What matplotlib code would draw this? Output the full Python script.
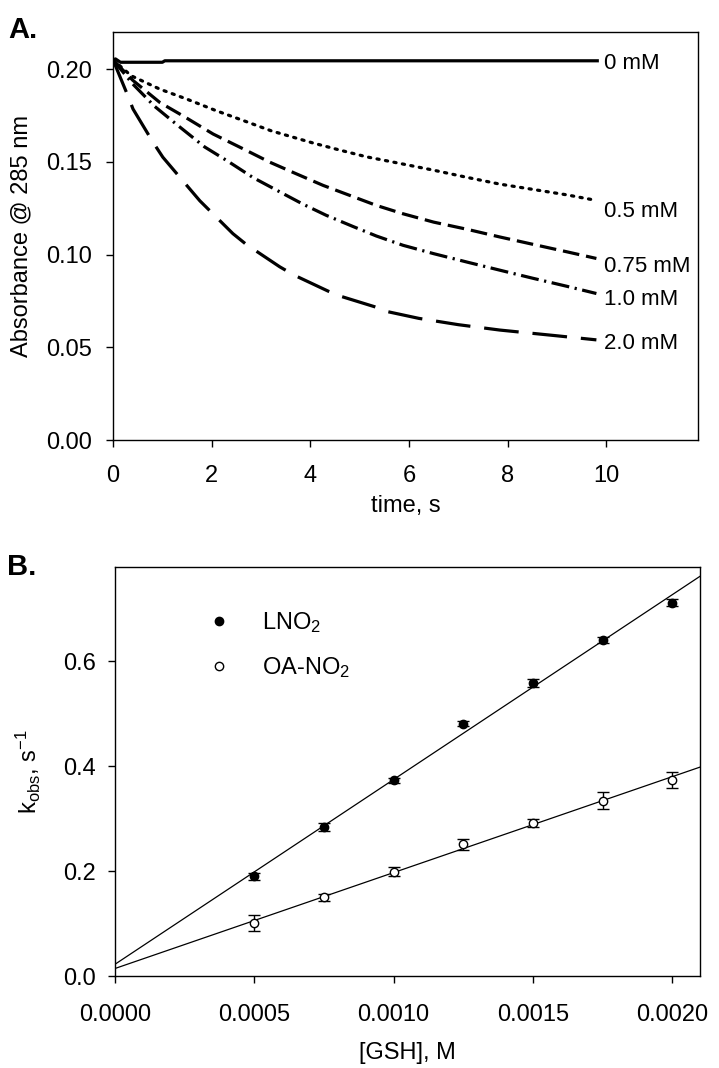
import matplotlib
matplotlib.use("Agg")
import matplotlib.pyplot as plt
import numpy as np
from matplotlib.lines import Line2D

plt.rcParams['font.family'] = ['Liberation Sans', 'DejaVu Sans']
plt.rcParams['mathtext.fontset'] = 'custom'
plt.rcParams['mathtext.rm'] = 'Liberation Sans'
plt.rcParams['mathtext.it'] = 'Liberation Sans'
plt.rcParams['lines.scale_dashes'] = False

# ---------------- Panel A data ----------------
t_0mM = [0, 0.05, 0.15, 1.0, 1.05, 9.85]
abs_0mM = [0.2050, 0.2055, 0.2037, 0.2037, 0.2045, 0.2045]

t_05mM = [0, 0.37, 0.95, 1.49, 2.09, 2.7, 3.21, 4.05, 4.59, 5.14, 5.75, 6.5, 7.2, 7.84, 8.5, 9.2, 9.8]
abs_05mM = [0.205, 0.1964, 0.1892, 0.1839, 0.1776, 0.1717, 0.1667, 0.1602, 0.1564, 0.1527, 0.1495,
            0.1455, 0.1415, 0.138, 0.1352, 0.1322, 0.1292]

t_075mM = [0, 0.4, 0.95, 1.45, 2.03, 2.64, 3.18, 3.72, 4.26, 4.8, 5.34, 5.88, 6.5, 7.2, 7.84, 8.5, 9.2, 9.8]
abs_075mM = [0.205, 0.194, 0.182, 0.1743, 0.165, 0.157, 0.1498, 0.1435, 0.1373, 0.1319, 0.1265, 0.122,
             0.1175, 0.1135, 0.1095, 0.1056, 0.1015, 0.0979]

t_10mM = [0, 0.4, 0.84, 1.32, 1.86, 2.33, 2.84, 3.34, 3.85, 4.32, 4.86, 5.34, 5.88, 6.5, 7.2, 7.84, 8.5, 9.2, 9.8]
abs_10mM = [0.205, 0.192, 0.180, 0.1695, 0.158, 0.1503, 0.1415, 0.1344, 0.1272, 0.1212, 0.1152, 0.1100,
            0.105, 0.1005, 0.0958, 0.0916, 0.0873, 0.0829, 0.079]

t_20mM = [0, 0.3, 0.405, 0.81, 1.01, 1.52, 1.76, 2.43, 2.7, 3.38, 3.68, 4.36, 4.63, 5.3, 5.57, 6.2, 7.0, 7.84, 9.0, 9.8]
abs_20mM = [0.205, 0.1857, 0.1785, 0.1606, 0.1525, 0.1365, 0.1290, 0.1113, 0.1055, 0.0934, 0.0888, 0.0803,
            0.0774, 0.0719, 0.0692, 0.0656, 0.0622, 0.0593, 0.0562, 0.054]

conc_labels = ["0 mM", "0.5 mM", "0.75 mM", "1.0 mM", "2.0 mM"]
label_y = [0.2030, 0.1230, 0.0933, 0.0758, 0.0522]

# ---------------- Panel B data ----------------
gsh_M = [0.0005, 0.00075, 0.0010, 0.00125, 0.0015, 0.00175, 0.0020]
k_lno2 = [0.190, 0.284, 0.373, 0.481, 0.559, 0.641, 0.712]
k_lno2_err = [0.007, 0.007, 0.005, 0.005, 0.008, 0.005, 0.007]
k_oano2 = [0.101, 0.150, 0.199, 0.251, 0.292, 0.334, 0.374]
k_oano2_err = [0.015, 0.007, 0.009, 0.011, 0.007, 0.016, 0.016]
legend_labels = [r"LNO$_2$", r"OA-NO$_2$"]

fig = plt.figure(figsize=(7.19, 10.68), dpi=100)

# ---------- Panel A ----------
axA = fig.add_axes([0.1572, 0.588, 0.8136, 0.382])
lw = 2.3
axA.plot(t_0mM, abs_0mM, color='black', lw=lw, solid_capstyle='butt')
axA.plot(t_05mM, abs_05mM, color='black', lw=lw, dashes=(1.6, 4.6), dash_capstyle='round')
axA.plot(t_075mM, abs_075mM, color='black', lw=lw, dashes=(12, 5))
axA.plot(t_10mM, abs_10mM, color='black', lw=lw, dashes=(13, 4, 1.6, 4))
axA.plot(t_20mM, abs_20mM, color='black', lw=lw, dashes=(25, 10))
for lab, yv in zip(conc_labels, label_y):
    axA.text(9.95, yv, lab, fontsize=16, va='center', ha='left')
axA.set_xlim(0, 11.86)
axA.set_ylim(0, 0.22)
axA.set_xticks([0, 2, 4, 6, 8, 10])
axA.set_yticks([0, 0.05, 0.10, 0.15, 0.20])
axA.set_yticklabels(["0.00", "0.05", "0.10", "0.15", "0.20"])
axA.tick_params(direction='out', length=5, width=1, labelsize=17)
axA.tick_params(axis='y', pad=10)
axA.tick_params(axis='x', pad=13)
axA.set_xlabel("time, s", fontsize=17, labelpad=6)
axA.set_ylabel("Absorbance @ 285 nm", fontsize=17, labelpad=10)
for s in axA.spines.values():
    s.set_linewidth(1.0)
fig.text(0.012, 0.985, "A.", fontsize=21, fontweight='bold', va='top', ha='left')

# ---------- Panel B ----------
axB = fig.add_axes([0.1600, 0.0861, 0.8136, 0.383])
xfit = np.array([0.0, 0.0021])
p1 = np.polyfit(gsh_M, k_lno2, 1)
p2 = np.polyfit(gsh_M, k_oano2, 1)
axB.plot(xfit, np.polyval(p1, xfit), color='black', lw=0.9)
axB.plot(xfit, np.polyval(p2, xfit), color='black', lw=0.9)
axB.errorbar(gsh_M, k_lno2, yerr=k_lno2_err, fmt='o', color='black', mfc='black', mec='black',
             ms=6, capsize=4, elinewidth=1, capthick=1, zorder=3)
axB.errorbar(gsh_M, k_oano2, yerr=k_oano2_err, fmt='o', color='black', mfc='white', mec='black',
             ms=6, capsize=4, elinewidth=1, capthick=1, zorder=3)
axB.set_xlim(0, 0.0021)
axB.set_ylim(0, 0.78)
axB.set_xticks([0, 0.0005, 0.0010, 0.0015, 0.0020])
axB.set_xticklabels(["0.0000", "0.0005", "0.0010", "0.0015", "0.0020"])
axB.set_yticks([0, 0.2, 0.4, 0.6])
axB.set_yticklabels(["0.0", "0.2", "0.4", "0.6"])
axB.tick_params(direction='out', length=5, width=1, labelsize=17)
axB.tick_params(axis='y', pad=9)
axB.tick_params(axis='x', pad=15)
axB.set_xlabel("[GSH], M", fontsize=17, labelpad=12)
axB.set_ylabel(r"k$_{\mathregular{obs}}$, s$^{\mathregular{-1}}$", fontsize=17, labelpad=14)
for s in axB.spines.values():
    s.set_linewidth(1.0)
handles = [Line2D([], [], ls='none', marker='o', ms=6, mfc='black', mec='black'),
           Line2D([], [], ls='none', marker='o', ms=6, mfc='white', mec='black')]
axB.legend(handles, legend_labels, loc='upper left', bbox_to_anchor=(0.1215, 0.947),
           frameon=False, fontsize=17, handlelength=1.0, handletextpad=1.32, labelspacing=0.87)
fig.text(0.010, 0.482, "B.", fontsize=21, fontweight='bold', va='top', ha='left')

fig.savefig("out.png", dpi=100)
